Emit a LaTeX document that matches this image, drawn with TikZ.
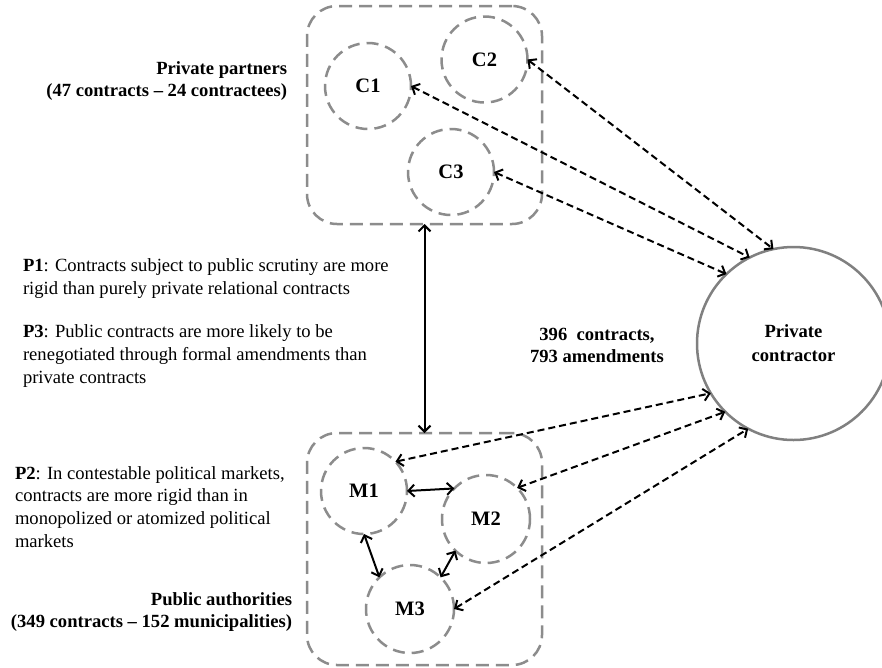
\documentclass[tikz,border=0pt]{standalone}
\usepackage{fontspec}
\setmainfont{Liberation Serif}
\usetikzlibrary{arrows.meta}
\definecolor{boxgray}{RGB}{140,140,140}
\definecolor{pcgray}{RGB}{128,128,128}
\begin{document}
\begin{tikzpicture}[x=1pt,y=-1pt,
  every node/.style={inner sep=0pt, outer sep=0pt},
  txt/.style={font=\fontsize{18.6}{22.6}\selectfont},
  btxt/.style={font=\fontsize{18.6}{22}\selectfont\bfseries},
  grpbox/.style={draw=boxgray, line width=2.5pt, dash pattern=on 13pt off 7pt, rounded corners=30pt, rectangle},
  cbox/.style={circle, draw=boxgray, line width=2.5pt, dash pattern=on 12pt off 7pt, minimum size=86pt, font=\fontsize{20.5}{22}\selectfont\bfseries},
  pcirc/.style={circle, draw=pcgray, line width=2.5pt, minimum size=193pt, align=center, font=\fontsize{18.6}{24}\selectfont\bfseries},
  darr/.style={draw=black, line width=2pt, dash pattern=on 7pt off 4pt, {Straight Barb[length=6pt,width=12pt]}-{Straight Barb[length=6pt,width=12pt]}},
  sarr/.style={draw=black, line width=2pt, {Straight Barb[length=6pt,width=12pt]}-{Straight Barb[length=6pt,width=12pt]}}
]
\clip (0,0) rectangle (882,667);
\fill[white] (0,0) rectangle (882,667);

% group boxes
\node[grpbox, minimum width=235pt, minimum height=218pt] (top) at (424.5,115) {};
\node[grpbox, minimum width=235pt, minimum height=232pt] (bot) at (424.5,549) {};

% circles
\node[cbox] (C1) at (368,86) {C1};
\node[cbox] (C2) at (484.5,59.5) {C2};
\node[cbox] (C3) at (451,172) {C3};
\node[cbox] (M1) at (364,491) {M1};
\node[cbox, minimum size=88pt] (M2) at (486,519) {M2};
\node[cbox, minimum size=88pt] (M3) at (410,609) {M3};

\node[pcirc] (PC) at (793.5,343.5) {Private\\contractor};

% texts (base anchor = baseline of last line)
\node[btxt, align=right, anchor=base east] (pp) at (287,96) {Private partners\\(47 contracts -- 24 contractees)};
\node[btxt, align=right, anchor=base east] (pa) at (292,627) {Public authorities\\(349 contracts -- 152 municipalities)};
\node[btxt, align=center, anchor=base] (nums) at (597,362) {396\ \ contracts,\\793 amendments};
\node[txt, align=left, anchor=base west] (p1) at (23,294) {\textbf{P1}: Contracts subject to public scrutiny are more\\rigid than purely private relational contracts};
\node[txt, align=left, anchor=base west] (p3) at (23,383) {\textbf{P3}: Public contracts are more likely to be\\renegotiated through formal amendments than\\private contracts};
\node[txt, align=left, anchor=base west] (p2) at (15,547) {\textbf{P2}: In contestable political markets,\\contracts are more rigid than in\\monopolized or atomized political\\markets};

% connectors
\draw[sarr] (top.south) -- (bot.north);
\draw[darr] (C2.0) -- (PC.102);
\draw[darr] (C1.0) -- (PC.117);
\draw[darr] (C3.0) -- (PC.134);
\draw[darr] (M1.43) -- (PC.211);
\draw[darr] (M2.45) -- (PC.225);
\draw[darr] (M3.0) -- (PC.242);
\draw[sarr] (M1.0) -- (M2.136);
\draw[sarr] (M1.270) -- (M3.134);
\draw[sarr] (M2.226) -- (M3.46);
\end{tikzpicture}
\end{document}
